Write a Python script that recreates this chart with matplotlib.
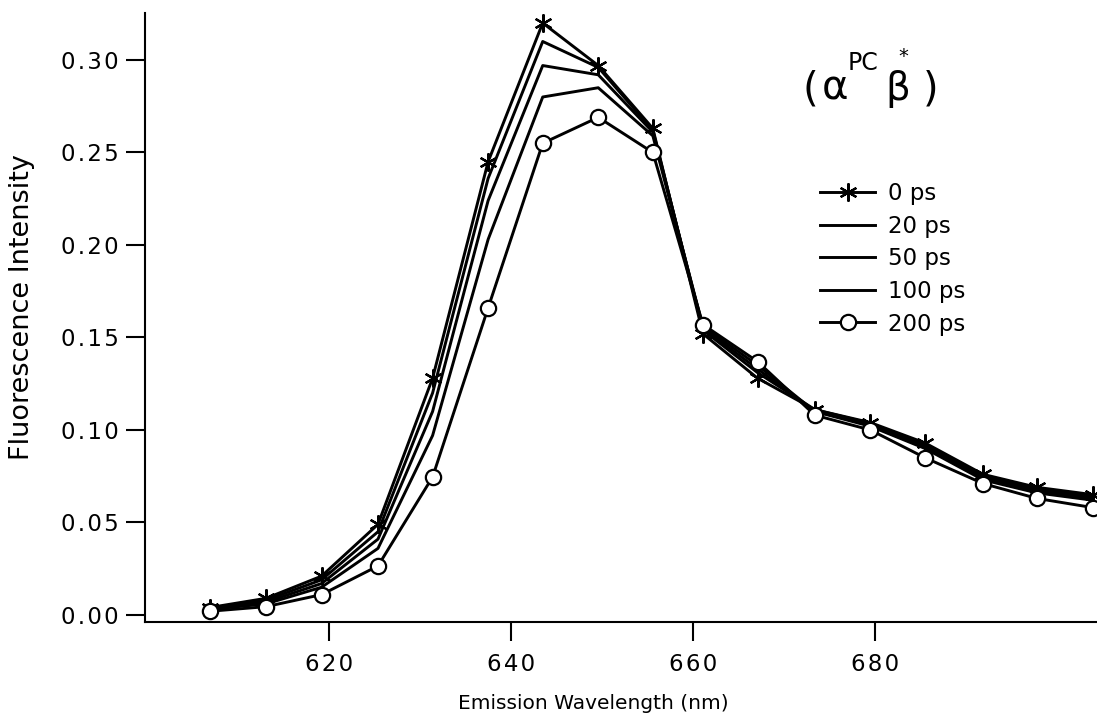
import numpy as np
import matplotlib
matplotlib.use("Agg")
import matplotlib.pyplot as plt
from matplotlib.ticker import FuncFormatter

plt.rcParams['font.family'] = ['DejaVu Sans']

### time-resolved emission spectra
wavelength = [606.9, 613.1, 619.2, 625.4, 631.4, 637.5, 643.5, 649.6, 655.6,
              661.1, 667.1, 673.4, 679.5, 685.5, 691.9, 697.8, 704.0]

inten_0ps = [0.004, 0.009, 0.021, 0.049, 0.128, 0.245, 0.320, 0.297, 0.263,
             0.152, 0.128, 0.111, 0.104, 0.093, 0.076, 0.069, 0.065]
inten_20ps = [0.0035, 0.008, 0.019, 0.045, 0.120, 0.236, 0.310, 0.296, 0.262,
              0.154, 0.131, 0.111, 0.1035, 0.092, 0.075, 0.068, 0.064]
inten_50ps = [0.003, 0.007, 0.017, 0.041, 0.110, 0.224, 0.297, 0.292, 0.261,
              0.155, 0.133, 0.110, 0.103, 0.091, 0.074, 0.067, 0.063]
inten_100ps = [0.003, 0.006, 0.015, 0.036, 0.097, 0.203, 0.280, 0.285, 0.259,
               0.156, 0.135, 0.110, 0.102, 0.090, 0.073, 0.066, 0.062]
inten_200ps = [0.002, 0.0045, 0.011, 0.0265, 0.0746, 0.166, 0.255, 0.269, 0.250,
               0.157, 0.137, 0.108, 0.100, 0.085, 0.071, 0.063, 0.058]

labels = ["0 ps", "20 ps", "50 ps", "100 ps", "200 ps"]

W, H = 1097, 722
fig = plt.figure(figsize=(W / 100, H / 100), dpi=100)
ax = fig.add_axes([145 / W, 1 - 622 / H, (W - 145) / W, (622 - 13) / H])

lw = 2.1
ax.plot(wavelength, inten_0ps, color='black', linewidth=lw,
        marker=(6, 2, 0), markersize=13, markeredgewidth=1.6, label=labels[0])
ax.plot(wavelength, inten_20ps, color='black', linewidth=lw, label=labels[1])
ax.plot(wavelength, inten_50ps, color='black', linewidth=lw, label=labels[2])
ax.plot(wavelength, inten_100ps, color='black', linewidth=lw, label=labels[3])
ax.plot(wavelength, inten_200ps, color='black', linewidth=lw,
        marker='o', markersize=11, markerfacecolor='white',
        markeredgecolor='black', markeredgewidth=1.6, label=labels[4])

ax.set_xlim(599.8, 704.4)
ax.set_ylim(-0.0038, 0.3254)
ax.set_xticks([620, 640, 660, 680])
ax.set_yticks(np.arange(0, 0.31, 0.05))

# spread the tick digits a little, typewriter style
ax.yaxis.set_major_formatter(FuncFormatter(lambda v, p: '\u200a'.join('%.2f' % v)))
ax.xaxis.set_major_formatter(FuncFormatter(lambda v, p: '\u200a'.join('%d' % v)))

ax.spines['top'].set_visible(False)
ax.spines['right'].set_visible(False)
ax.spines['left'].set_linewidth(1.5)
ax.spines['bottom'].set_linewidth(1.5)
ax.tick_params(axis='both', direction='out', length=14, width=1.5,
               labelsize=16.5, color='black')
ax.tick_params(axis='y', pad=5)
ax.tick_params(axis='x', pad=8)

ax.set_xlabel("Emission Wavelength (nm)", fontsize=14.5)
ax.set_ylabel("Fluorescence Intensity", fontsize=19.5)
ax.xaxis.set_label_coords(0.4706, -0.118)
ax.yaxis.set_label_coords(-0.129, 0.517)
ax.yaxis.label.set_va('center')

# sample label (alpha^PC beta^*)
fig.text(810 / W, 1 - 101 / H, "(", fontsize=29, ha='center', va='baseline')
fig.text(835 / W, 1 - 100 / H, "\u03b1", fontsize=29, ha='center', va='baseline')
fig.text(863 / W, 1 - 70 / H, "PC", fontsize=17, ha='center', va='baseline')
fig.text(898 / W, 1 - 100 / H, "\u03b2", fontsize=28, ha='center', va='baseline')
fig.text(903 / W, 1 - 62 / H, "*", fontsize=14, ha='center', va='baseline')
fig.text(931 / W, 1 - 101 / H, ")", fontsize=29, ha='center', va='baseline')

ax.legend(loc='upper left', bbox_to_anchor=(820 / W, 1 - 182 / H),
          bbox_transform=fig.transFigure, frameon=False, fontsize=16.5,
          handlelength=2.4, handletextpad=0.56, labelspacing=0.42,
          borderpad=0, borderaxespad=0, numpoints=1)

fig.savefig("out.png", dpi=100)
